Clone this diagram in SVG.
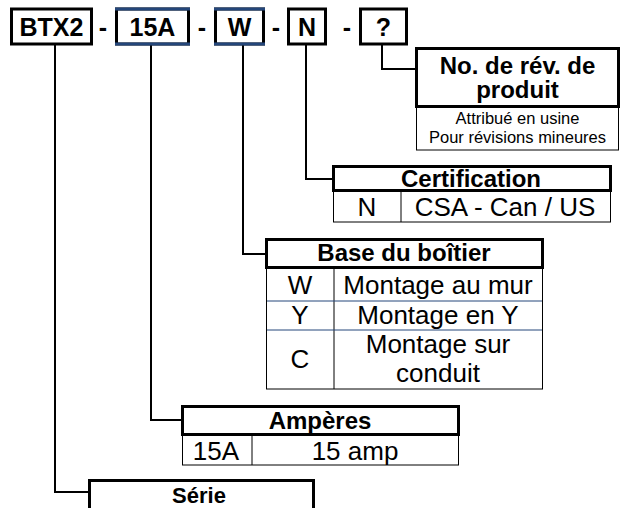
<svg xmlns="http://www.w3.org/2000/svg" width="626" height="508" viewBox="0 0 626 508">
<style>
.thick{fill:#fff;stroke:#000;stroke-width:3}
.thin{fill:#fff;stroke:#000;stroke-width:1}
.line{fill:none;stroke:#000;stroke-width:1}
.blue{fill:none;stroke:#24467a;stroke-width:1}
.bside{fill:none;stroke:#24467a;stroke-width:3}
.conn{fill:none;stroke:#000;stroke-width:2}
text{font-family:"Liberation Sans",Arial,sans-serif;fill:#000;text-anchor:middle}
.code{font-size:25px;font-weight:bold}
.hd{font-size:24px;font-weight:bold}
.rt{font-size:24px;font-weight:bold}
.rw{font-size:26px}
.sm{font-size:16.5px}
.se{font-size:22px;font-weight:bold}
</style>
<rect width="626" height="508" fill="#fff"/>
<g id="connectors">
<path class="conn" d="M55 45V492H90"/>
<path class="conn" d="M151 45V420H183"/>
<path class="conn" d="M243 45V254H266"/>
<path class="conn" d="M306 45V179H333"/>
<path class="conn" d="M382 45V69H416"/>
</g>
<g id="code">
<g id="code-btx2"><rect class="thick" x="11.5" y="9" width="80" height="35"/><text class="code" x="51.5" y="36">BTX2</text></g>
<text class="code" x="103" y="36">-</text>
<g id="code-15a"><rect x="116.5" y="9" width="72" height="35" fill="#fff" stroke="#000" stroke-width="3"/><path class="bside" d="M115 9H190M115 44H190"/><text class="code" x="152.5" y="36">15A</text></g>
<text class="code" x="202" y="36">-</text>
<g id="code-w"><rect x="215.5" y="9" width="48" height="35" fill="#fff" stroke="#000" stroke-width="3"/><path class="bside" d="M214 9H265M214 44H265"/><text class="code" x="239.5" y="36">W</text></g>
<text class="code" x="276" y="36">-</text>
<g id="code-n"><rect class="thick" x="288.5" y="9" width="37" height="35"/><text class="code" x="307" y="36">N</text></g>
<text class="code" x="347" y="36">-</text>
<g id="code-rev"><rect class="thick" x="360.5" y="9" width="46" height="35"/><text class="code" x="383.5" y="36">?</text></g>
</g>
<g id="node-rev">
<rect class="thin" x="416.5" y="107" width="202" height="43"/>
<rect class="thick" x="416.5" y="48.5" width="202" height="58"/>
<text class="rt" x="517.5" y="74">No. de rév. de</text>
<text class="rt" x="517.5" y="98">produit</text>
<text class="sm" x="517.5" y="124">Attribué en usine</text>
<text class="sm" x="517.5" y="143">Pour révisions mineures</text>
</g>
<g id="node-cert">
<rect class="thin" x="333.5" y="191" width="277" height="31"/>
<path class="line" d="M401 191V222"/>
<rect class="thick" x="333.5" y="166.5" width="277" height="24"/>
<text class="hd" x="471" y="187">Certification</text>
<text class="rw" x="367" y="216">N</text>
<text class="rw" x="505" y="216">CSA - Can / US</text>
</g>
<g id="node-base">
<rect class="thin" x="266.5" y="267" width="276" height="122"/>
<path class="line" d="M334 267V389"/>
<path class="blue" d="M267 301H542M267 330H542"/>
<rect class="thick" x="266.5" y="239.5" width="276" height="28"/>
<text class="hd" x="404" y="261">Base du boîtier</text>
<text class="rw" x="300" y="294">W</text>
<text class="rw" x="438" y="294">Montage au mur</text>
<text class="rw" x="300" y="324">Y</text>
<text class="rw" x="438" y="324">Montage en Y</text>
<text class="rw" x="300" y="368">C</text>
<text class="rw" x="438" y="353">Montage sur</text>
<text class="rw" x="438" y="382">conduit</text>
</g>
<g id="node-amp">
<rect class="thin" x="182.5" y="434" width="276" height="31"/>
<path class="line" d="M252 434V465"/>
<rect class="thick" x="182.5" y="406.5" width="276" height="28"/>
<text class="hd" x="320" y="429">Ampères</text>
<text class="rw" x="216" y="460">15A</text>
<text class="rw" x="355" y="460">15 amp</text>
</g>
<g id="node-serie">
<rect class="thick" x="89.5" y="480.5" width="224" height="40"/>
<text class="se" x="199" y="503">Série</text>
</g>
</svg>
